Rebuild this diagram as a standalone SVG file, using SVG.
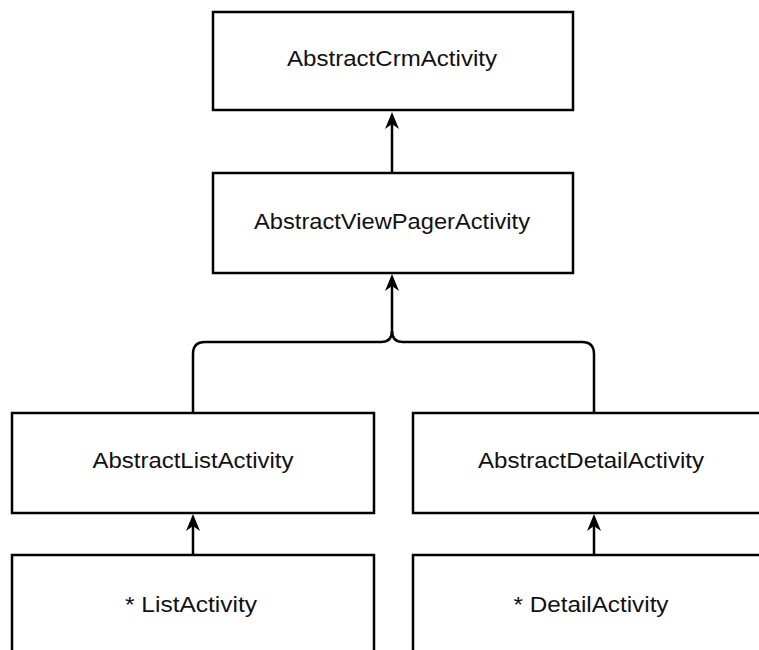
<svg xmlns="http://www.w3.org/2000/svg" width="759" height="650" viewBox="0 0 759 650">
<style>
.box{fill:#fff;stroke:#000;stroke-width:2.5}
.lbl{font-family:"Liberation Sans",Arial,sans-serif;font-size:22px;fill:#111;text-anchor:middle}
.edge{fill:none;stroke:#000;stroke-width:2.5}
</style>
<defs>
<marker id="arr" markerWidth="17" markerHeight="14" refX="11" refY="7" orient="auto" markerUnits="userSpaceOnUse" viewBox="0 0 17 14">
<path d="M17,7 L0,0 L5,7 L0,14 Z" fill="#000"/>
</marker>
</defs>
<rect width="759" height="650" fill="#fff"/>
<g id="connectors">
<path class="edge" d="M392,173 L392,118" marker-end="url(#arr)"/>
<path class="edge" d="M193,413 L193,354 Q193,342 205,342 L381,342 Q392,342 392,331 L392,280" marker-end="url(#arr)"/>
<path class="edge" d="M594,413 L594,354 Q594,342 582,342 L403,342 Q392,342 392,331"/>
<path class="edge" d="M193,555 L193,520" marker-end="url(#arr)"/>
<path class="edge" d="M594,555 L594,520" marker-end="url(#arr)"/>
</g>
<g id="n1">
<rect class="box" x="213" y="12" width="360" height="98"/>
<text class="lbl" x="392" y="66" textLength="210" lengthAdjust="spacingAndGlyphs">AbstractCrmActivity</text>
</g>
<g id="n2">
<rect class="box" x="213" y="173" width="360" height="100"/>
<text class="lbl" x="392" y="229" textLength="276" lengthAdjust="spacingAndGlyphs">AbstractViewPagerActivity</text>
</g>
<g id="n3">
<rect class="box" x="12" y="413" width="362" height="100"/>
<text class="lbl" x="193" y="468" textLength="201" lengthAdjust="spacingAndGlyphs">AbstractListActivity</text>
</g>
<g id="n4">
<rect class="box" x="413" y="413" width="362" height="100"/>
<text class="lbl" x="591" y="468" textLength="226" lengthAdjust="spacingAndGlyphs">AbstractDetailActivity</text>
</g>
<g id="n5">
<rect class="box" x="12" y="555" width="362" height="110"/>
<text class="lbl" x="191" y="612" textLength="132" lengthAdjust="spacingAndGlyphs">* ListActivity</text>
</g>
<g id="n6">
<rect class="box" x="413" y="555" width="362" height="110"/>
<text class="lbl" x="591" y="612" textLength="155" lengthAdjust="spacingAndGlyphs">* DetailActivity</text>
</g>
</svg>
